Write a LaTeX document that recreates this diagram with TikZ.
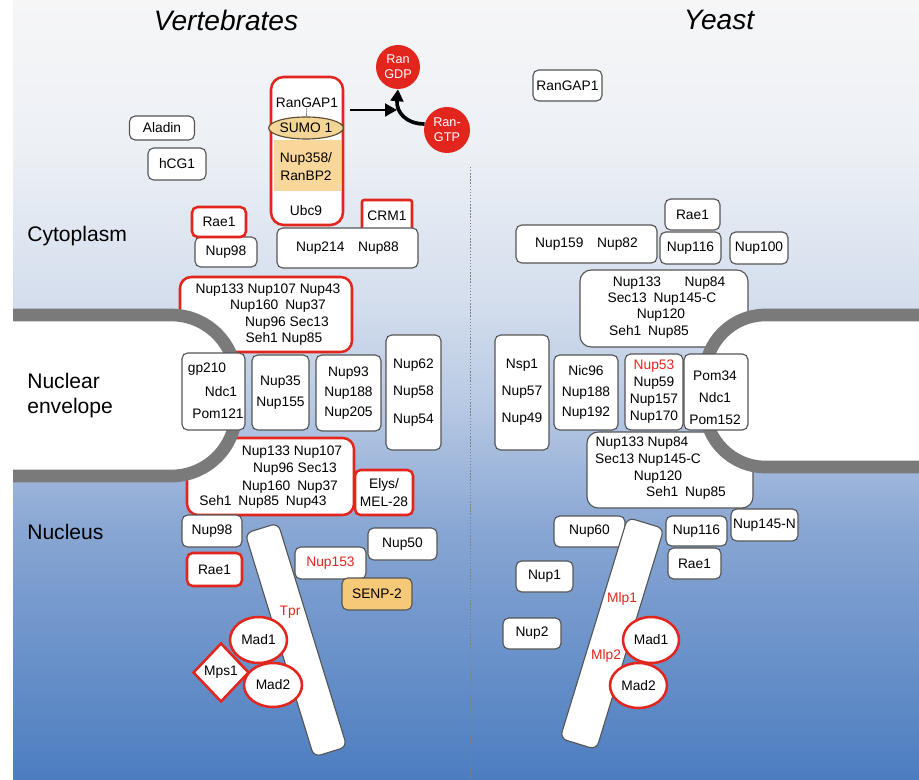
\documentclass[tikz,border=0pt]{standalone}
\usepackage{fontspec}
\setmainfont{Liberation Sans}
\usepackage{xcolor}
\usepackage{tikz}
\usetikzlibrary{shapes.geometric, arrows.meta, positioning, calc}
\definecolor{npcred}{RGB}{226, 38, 30}
\definecolor{boxgray}{RGB}{85, 85, 85}
\definecolor{membgray}{RGB}{122, 122, 122}
\definecolor{sumofill}{RGB}{243, 214, 150}
\definecolor{sumoline}{RGB}{90, 75, 45}
\definecolor{bandfill}{RGB}{249, 215, 155}
\definecolor{senpfill}{RGB}{246, 201, 120}
\definecolor{bgA}{RGB}{246, 246, 247}
\definecolor{bgB}{RGB}{236, 240, 245}
\definecolor{bgC}{RGB}{212, 222, 237}
\definecolor{bgD}{RGB}{185, 202, 228}
\definecolor{bgE}{RGB}{136, 166, 211}
\definecolor{bgF}{RGB}{76, 125, 192}

\tikzset{
  wh/.style 2 args={minimum width=#1*0.025cm, minimum height=#2*0.025cm},
  nup/.style={draw=boxgray, fill=white, line width=0.8pt, rounded corners=4pt,
              inner sep=0pt, align=center},
  rednup/.style={nup, draw=npcred, line width=1.8pt},
  lbl/.style={inner sep=0pt, align=center},
  redlbl/.style={lbl, text=npcred},
  madball/.style={ellipse, draw=npcred, fill=white, line width=1.8pt, inner sep=0pt},
  ranball/.style={circle, fill=npcred, text=white, inner sep=0pt, align=center,
                  font=\fontsize{9}{10.5}\selectfont},
  fibril/.style={rectangle, draw=boxgray, fill=white, line width=0.8pt, rounded corners=5pt},
  membrane/.style={draw=membgray, fill=white, line width=9pt},
  region/.style={anchor=west, align=left, inner sep=0pt, font=\fontsize{15}{17.8}\selectfont},
  ranarrow/.style={-{Triangle[length=8.5pt, width=9pt]}, line width=2pt, black},
}

\begin{document}
\begin{tikzpicture}[x=0.025cm, y=-0.025cm, font=\fontsize{9.8}{11.5}\selectfont]
    % background
    \useasboundingbox (0,0) rectangle (919,780);
    \fill[white] (0,0) rectangle (919,780);
    \foreach \ya/\yb/\ca/\cb in {0/150/bgA/bgB, 150/300/bgB/bgC, 300/400/bgC/bgD,
                                 400/530/bgD/bgE, 530/780/bgE/bgF}
        \shade[top color=\ca, bottom color=\cb] (13,\ya) rectangle (919,\yb+1);
    \draw[gray, line width=0.7pt, dash pattern=on 1pt off 1.2pt] (470,167) -- (470,780);

    \node[font=\fontsize{20}{24}\selectfont\itshape] (vert) at (226,20) {Vertebrates};
    \node[font=\fontsize{20}{24}\selectfont\itshape] (yeast) at (719,20) {Yeast};

    % core rings (partly under the membrane)
    \node[rednup, wh={172}{75}, rounded corners=8pt] (vcoreC) at (266,314.5) {};
    \node[rednup, wh={167}{77}, rounded corners=8pt] (vcoreN) at (270.5,476.5) {};
    \node[nup, wh={168}{77}, rounded corners=8pt] (ycoreC) at (664,308.5) {};
    \node[nup, wh={166}{76}, rounded corners=8pt] (ycoreN) at (670,470) {};

    % nuclear envelope
    \draw[membrane, rounded corners=46pt] (13,315) -- (236,315) -- (236,476) -- (13,476);
    \draw[membrane, rounded corners=43pt] (935,315) -- (705,315) -- (705,467) -- (935,467);

    \node[region] (cyto) at (27,236) {Cytoplasm};
    \node[region] (nenv) at (27,396) {Nuclear\\envelope};
    \node[region] (nucl) at (27,532) {Nucleus};

    % vertebrates, cytoplasm
    \node[nup, wh={65}{24}] (aladin) at (162,128) {Aladin};
    \node[nup, wh={58}{32}] (hcg) at (177,164) {hCG1};
    \node[rednup, wh={72}{148}, rounded corners=9pt] (ranbp) at (307,151) {};
    \fill[bandfill] (273.5,140) rectangle (340.5,191);
    \node[lbl] (rangapV) at (307,103) {RanGAP1};
    \node[ellipse, draw=sumoline, fill=sumofill, line width=0.8pt, inner sep=0pt,
          wh={70}{22}] (sumo) at (306,128) {SUMO 1};
    \draw[gray, line width=0.5pt] (rangapV) -- (sumo);
    \node[lbl] (nup358) at (306,167) {Nup358/\\[1.3pt]RanBP2};
    \node[lbl] (ubc) at (306,211) {Ubc9};

    \node[ranball, wh={44}{44}] (rangdp) at (398,67) {Ran\\GDP};
    \node[ranball, wh={46}{46}] (rangtp) at (447,130) {Ran-\\GTP};
    \coordinate (gaphead) at (397,110);
    \draw[ranarrow] ($(ranbp.east |- gaphead)+(6,0)$) -- (gaphead);
    \draw[ranarrow, line width=2.6pt] (rangtp.165) .. controls (406,124) and (396,112) .. (rangdp.south);

    \node[nup, wh={62}{30}] (nup98C) at (226,252) {Nup98};
    \node[rednup, wh={54}{30}] (raeC) at (219,222) {Rae1};
    \node[rednup, wh={50}{31}, rounded corners=1.5pt] (crm) at (387,215.5) {CRM1};
    \node[nup, wh={141}{40}] (nup214) at (347.5,248) {Nup214\quad Nup88};

    \node[lbl] (vcC1) at (268,290) {Nup133 Nup107 Nup43};
    \node[lbl] (vcC2) at (278,306) {Nup160\enspace Nup37};
    \node[lbl] (vcC3) at (287,323) {Nup96 Sec13};
    \node[lbl] (vcC4) at (284,339) {Seh1 Nup85};

    % vertebrates, envelope
    \node[nup, wh={63}{77}] (gp) at (213.5,391.5) {};
    \node[lbl] (gp210) at (207,369) {gp210};
    \node[lbl] (ndcV) at (221,392) {Ndc1};
    \node[lbl] (pom121) at (218,414) {Pom121};
    \node[nup, wh={57}{75}] (nup35) at (280.5,392.5) {Nup35\\[3.5pt]Nup155};
    \node[nup, wh={65}{76}] (nup93) at (348.5,393) {Nup93\\[2.7pt]Nup188\\[2.7pt]Nup205};
    \node[nup, wh={55}{115}] (nup62) at (413.5,392.5) {Nup62\\[8.1pt]Nup58\\[8.1pt]Nup54};

    \node[lbl] (vcN1) at (292,452) {Nup133 Nup107};
    \node[lbl] (vcN2) at (295,469) {Nup96 Sec13};
    \node[lbl] (vcN3) at (290,487) {Nup160\enspace Nup37};
    \node[lbl] (vcN4) at (263,502) {Seh1\enspace Nup85\enspace Nup43};
    \node[rednup, wh={58}{45}] (elys) at (384,492.5) {Elys/\\[1.3pt]MEL-28};

    % vertebrates, nucleus
    \node[nup, wh={60}{32}] (nup98N) at (212,531) {Nup98};
    \node[rednup, wh={55}{33}] (raeN) at (214.5,569.5) {Rae1};
    \node[nup, wh={71}{32}, text=npcred] (nup153) at (330.5,563) {Nup153};
    \node[nup, wh={69}{32}] (nup50) at (402.5,544) {Nup50};
    \node[nup, wh={70}{32}, fill=senpfill] (senp) at (377,594) {SENP-2};
    \node[fibril, wh={34.5}{234}, rotate=17.1] (tpr) at (296,640) {};
    \node[redlbl] (tprlbl) at (290,612) {Tpr};
    \node[diamond, draw=npcred, fill=white, line width=1.8pt, inner sep=0pt,
          wh={56}{59}] (mps1) at (221,672.5) {Mps1};
    \node[madball, wh={57}{46}] (mad1V) at (258.5,640) {Mad1};
    \node[madball, wh={58}{44}] (mad2V) at (273,685) {Mad2};

    % yeast, cytoplasm
    \node[nup, wh={69}{31}] (rangapY) at (567.5,85.5) {RanGAP1};
    \node[nup, wh={55}{31}] (raeY) at (692.5,214.5) {Rae1};
    \node[nup, wh={141}{38}] (nup159) at (586.5,244) {Nup159\quad Nup82};
    \node[nup, wh={61}{32}] (nup116C) at (690.5,248) {Nup116};
    \node[nup, wh={58}{32}] (nup100) at (759,248) {Nup100};

    \node[lbl] (ycC1) at (637,283) {Nup133};
    \node[lbl] (ycC2) at (705,283) {Nup84};
    \node[lbl] (ycC3) at (662,299) {Sec13\enspace Nup145-C};
    \node[lbl] (ycC4) at (661,315) {Nup120};
    \node[lbl] (ycC5) at (649,332) {Seh1\enspace Nup85};

    % yeast, envelope
    \node[nup, wh={54}{115}] (nsp1) at (522,392.5) {Nsp1\\[7.7pt]Nup57\\[7.7pt]Nup49};
    \node[nup, wh={64}{75}] (nic96) at (586,392.5) {Nic96\\[3.1pt]Nup188\\[3.1pt]Nup192};
    \node[nup, wh={58}{76}] (nup53) at (654,392)
        {\textcolor{npcred}{Nup53}\\[0.6pt]Nup59\\[0.6pt]Nup157\\[0.6pt]Nup170};
    \node[nup, wh={64}{76}] (pom34) at (716,392) {};
    \node[lbl] (pom34txt) at (715,398) {Pom34\\[4.1pt]Ndc1\\[4.1pt]Pom152};

    \node[lbl] (ycN1) at (642,443) {Nup133 Nup84};
    \node[lbl] (ycN2) at (648,460) {Sec13 Nup145-C};
    \node[lbl] (ycN3) at (658,477) {Nup120};
    \node[lbl] (ycN4) at (686,493) {Seh1\enspace Nup85};

    % yeast, nucleus
    \node[nup, wh={71}{31}] (nup60) at (589.5,531.5) {Nup60};
    \node[nup, wh={61}{30}] (nup116N) at (696.5,531) {Nup116};
    \node[nup, wh={67}{32}] (nup145N) at (764.5,525) {Nup145-N};
    \node[nup, wh={53}{31}] (raeYN) at (694.5,563.5) {Rae1};
    \node[nup, wh={57}{31}] (nup1) at (544.5,576.5) {Nup1};
    \node[nup, wh={58}{31}] (nup2) at (532,633.5) {Nup2};
    \node[fibril, wh={38}{231}, rotate=-17] (mlp) at (612,633.5) {};
    \node[redlbl] (mlp1) at (622,599) {Mlp1};
    \node[redlbl] (mlp2) at (606,656) {Mlp2};
    \node[madball, wh={56}{46}] (mad1Y) at (651,640) {Mad1};
    \node[madball, wh={57}{45}] (mad2Y) at (638.5,685.5) {Mad2};
\end{tikzpicture}
\end{document}
